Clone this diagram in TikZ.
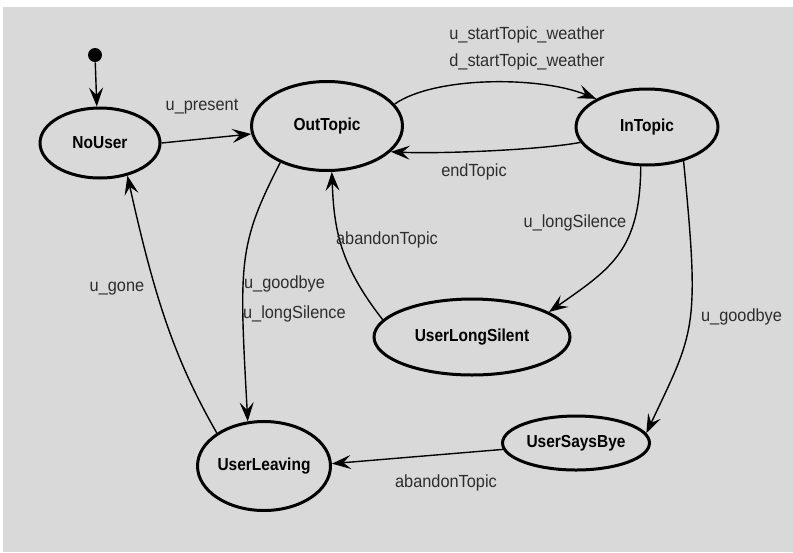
\documentclass[tikz,border=0pt]{standalone}
\usepackage{fontspec}
\setmainfont{Liberation Sans}
\newfontfamily\statefont[FakeStretch=0.89]{Liberation Sans}
\newfontfamily\labelfont[FakeStretch=0.93]{Liberation Sans}
\usetikzlibrary{shapes.geometric,arrows.meta}
\definecolor{bggray}{RGB}{217,217,217}
\definecolor{labelgray}{RGB}{45,45,45}

\begin{document}
\begin{tikzpicture}[x=0.02cm,y=-0.02cm,
    state/.style={ellipse,draw,line width=0.06cm,inner sep=0pt,
        font=\statefont\bfseries\fontsize{9.9}{11}\selectfont},
    trans/.style={line width=0.028cm,-{Stealth[length=0.38cm,width=0.28cm,inset=0.15cm]}},
    lbl/.style={font=\labelfont\fontsize{10}{12}\selectfont,text=labelgray,inner sep=1pt}]
    % Fundal
    \useasboundingbox (0,0) rectangle (793,552);
    \fill[white] (0,0) rectangle (793,552);
    \fill[bggray] (3,7) rectangle (793,552);
    % Stari
    \node[circle,fill,inner sep=0pt,minimum size=0.28cm] (init) at (95,55) {};
    \node[state,minimum width=2.40cm,minimum height=1.40cm] (NoUser) at (100,143) {NoUser};
    \node[state,minimum width=3.02cm,minimum height=1.78cm] (OutTopic) at (327,126) {OutTopic};
    \node[state,minimum width=2.84cm,minimum height=1.52cm] (InTopic) at (647,127) {InTopic};
    \node[state,minimum width=3.92cm,minimum height=1.52cm] (UserLongSilent) at (472,337) {UserLongSilent};
    \node[state,minimum width=2.94cm,minimum height=1.08cm] (UserSaysBye) at (576,443) {UserSaysBye};
    \node[state,minimum width=2.66cm,minimum height=1.78cm] (UserLeaving) at (264,466) {UserLeaving};
    % Tranzitii
    \draw[trans] (init) -- (NoUser.95);
    \draw[trans] (NoUser.east) -- (OutTopic.186);
    \draw[trans] (OutTopic.18) .. controls (435,76) and (540,76) .. (InTopic.151);
    \draw[trans] (InTopic.193) .. controls (540,150) and (440,154) .. (OutTopic.338);
    \draw[trans] (OutTopic.218) .. controls (238,245) and (239,262) .. (UserLeaving.110);
    \draw[trans] (UserLeaving.145) .. controls (175,360) and (155,300) .. (NoUser.310);
    \draw[trans] (UserLongSilent.169) .. controls (340,265) and (334,230) .. (OutTopic.276);
    \draw[trans] (InTopic.261) .. controls (640,250) and (612,268) .. (UserLongSilent.18);
    \draw[trans] (InTopic.317) .. controls (700,330) and (695,330) .. (UserSaysBye.8);
    \draw[trans] (UserSaysBye.185) -- (UserLeaving.2);
    % Etichete
    \node[lbl] (lPresent) at (202,107) {u\_present};
    \node[lbl] (lStartU) at (527,35) {u\_startTopic\_weather};
    \node[lbl] (lStartD) at (527,62) {d\_startTopic\_weather};
    \node[lbl] (lEnd) at (474,172) {endTopic};
    \node[lbl,anchor=west] (lByeOut) at (242,284) {u\_goodbye};
    \node[lbl,anchor=west] (lSilOut) at (241,314) {u\_longSilence};
    \node[lbl] (lGone) at (117,289) {u\_gone};
    \node[lbl,anchor=west] (lAbandonUp) at (334,240) {abandonTopic};
    \node[lbl] (lSilIn) at (575,223) {u\_longSilence};
    \node[lbl,anchor=west] (lByeIn) at (699,317) {u\_goodbye};
    \node[lbl] (lAbandonLow) at (446,483) {abandonTopic};
\end{tikzpicture}
\end{document}
